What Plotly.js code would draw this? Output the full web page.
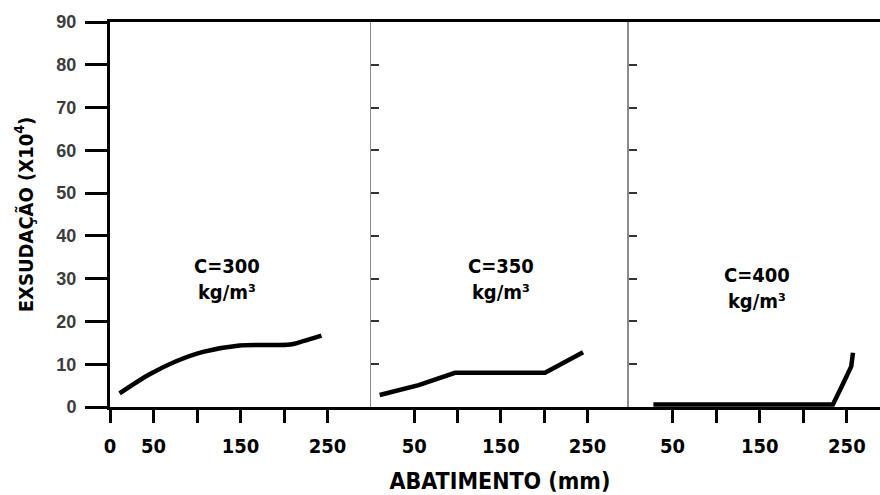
<!DOCTYPE html>
<html>
<head>
<meta charset="utf-8">
<script src="https://cdn.plot.ly/plotly-3.0.1.min.js"></script>
<style>html,body{margin:0;padding:0;background:#fff;}#chart{width:880px;height:495px;}</style>
</head>
<body>
<div id="chart"></div>
<script>
// Data (abatimento in mm, exsudação x10^4)
const abatimentoC300 = [11, 45, 76, 107, 149, 207, 222, 243];
const exsudacaoC300  = [3.2, 7.6, 10.7, 12.9, 14.4, 14.6, 15.4, 16.7];
const abatimentoC350 = [10, 55, 97, 201, 245];
const exsudacaoC350  = [2.8, 5.1, 8.0, 8.0, 12.8];
const abatimentoC400 = [28, 234, 246, 255, 257];
const exsudacaoC400  = [0.6, 0.6, 5.6, 9.5, 12.7];

const panelLabels = ["C=300<br>kg/m³", "C=350<br>kg/m³", "C=400<br>kg/m³"];
const xTickVals1 = [0, 50, 150, 250];
const xTickText1 = ["0", "50", "150", "250"];
const xTickVals23 = [50, 150, 250];
const xTickText23 = ["50", "150", "250"];
const xMinorTicks = [100, 200];
const yTickVals = [0, 10, 20, 30, 40, 50, 60, 70, 80, 90];
const yInnerTicks = [10, 20, 30, 40, 50, 60, 70, 80];

const NARROW = "'DejaVu Sans Condensed', 'Liberation Sans Narrow', 'Liberation Sans', sans-serif";

const lineStyle = {color: "#000", width: 4.5};
const traces = [
  {x: abatimentoC300, y: exsudacaoC300, xaxis: "x", yaxis: "y", mode: "lines",
   line: Object.assign({shape: "spline", smoothing: 0.8}, lineStyle), hoverinfo: "skip"},
  {x: abatimentoC350, y: exsudacaoC350, xaxis: "x2", yaxis: "y2", mode: "lines",
   line: Object.assign({shape: "linear"}, lineStyle), hoverinfo: "skip"},
  {x: abatimentoC400, y: exsudacaoC400, xaxis: "x3", yaxis: "y3", mode: "lines",
   line: Object.assign({shape: "linear"}, lineStyle), hoverinfo: "skip"}
];

const xBase = {
  showgrid: false, zeroline: false, showline: true, linecolor: "#000", linewidth: 3,
  mirror: true, ticks: "outside", ticklen: 13, tickwidth: 3, tickcolor: "#000",
  tickmode: "array", ticklabelstandoff: 6,
  tickfont: {family: NARROW, size: 20, color: "#000", weight: "bold"},
  minor: {tickmode: "array", tickvals: xMinorTicks, ticks: "outside", ticklen: 13,
          tickwidth: 3, tickcolor: "#000", showgrid: false},
  automargin: false, fixedrange: true
};
const yInner = {
  showgrid: false, zeroline: false, showline: true, linecolor: "#8a8a8a", linewidth: 1.5,
  ticks: "inside", ticklen: 8, tickwidth: 2, tickcolor: "#333",
  tickmode: "array", tickvals: yInnerTicks, showticklabels: false,
  range: [0, 90], automargin: false, fixedrange: true
};
const annFont = {family: NARROW, size: 20, color: "#000", weight: "bold"};

const layout = {
  width: 880, height: 495,
  margin: {l: 110, r: 0, t: 22, b: 88},
  paper_bgcolor: "#fff", plot_bgcolor: "#fff",
  showlegend: false,
  xaxis: Object.assign({}, xBase, {domain: [0, 0.339], range: [0, 300], anchor: "y",
    tickvals: xTickVals1, ticktext: xTickText1}),
  xaxis2: Object.assign({}, xBase, {domain: [0.339, 0.674], range: [0, 298], anchor: "y2",
    tickvals: xTickVals23, ticktext: xTickText23,
    title: {text: "ABATIMENTO (mm)", standoff: 16,
      font: {family: NARROW, size: 23, color: "#000", weight: "bold"}}}),
  xaxis3: Object.assign({}, xBase, {domain: [0.674, 1], range: [0, 288], anchor: "y3",
    tickvals: xTickVals23, ticktext: xTickText23}),
  yaxis: {
    domain: [0, 1], range: [0, 90], anchor: "x",
    showgrid: false, zeroline: false, showline: true, linecolor: "#000", linewidth: 3,
    ticks: "outside", ticklen: 22, tickwidth: 3, tickcolor: "#000",
    tickmode: "array", tickvals: yTickVals, ticklabelstandoff: 5,
    tickfont: {family: "'Liberation Sans', Arial, sans-serif", size: 18, color: "#3c3c3c", weight: "bold"},
    title: {text: "EXSUDAÇÃO (X10<sup>4</sup>)", standoff: 18,
      font: {family: NARROW, size: 20, color: "#000", weight: "bold"}},
    automargin: false, fixedrange: true
  },
  yaxis2: Object.assign({}, yInner, {domain: [0, 1], anchor: "x2"}),
  yaxis3: Object.assign({}, yInner, {domain: [0, 1], anchor: "x3"}),
  annotations: [
    {text: panelLabels[0], xref: "x", yref: "y", x: 134, y: 30, showarrow: false,
     font: annFont, align: "center"},
    {text: panelLabels[1], xref: "x2", yref: "y2", x: 150, y: 30, showarrow: false,
     font: annFont, align: "center"},
    {text: panelLabels[2], xref: "x3", yref: "y3", x: 147, y: 27.8, showarrow: false,
     font: annFont, align: "center"}
  ]
};

Plotly.newPlot("chart", traces, layout, {staticPlot: true, displayModeBar: false});
</script>
</body>
</html>
